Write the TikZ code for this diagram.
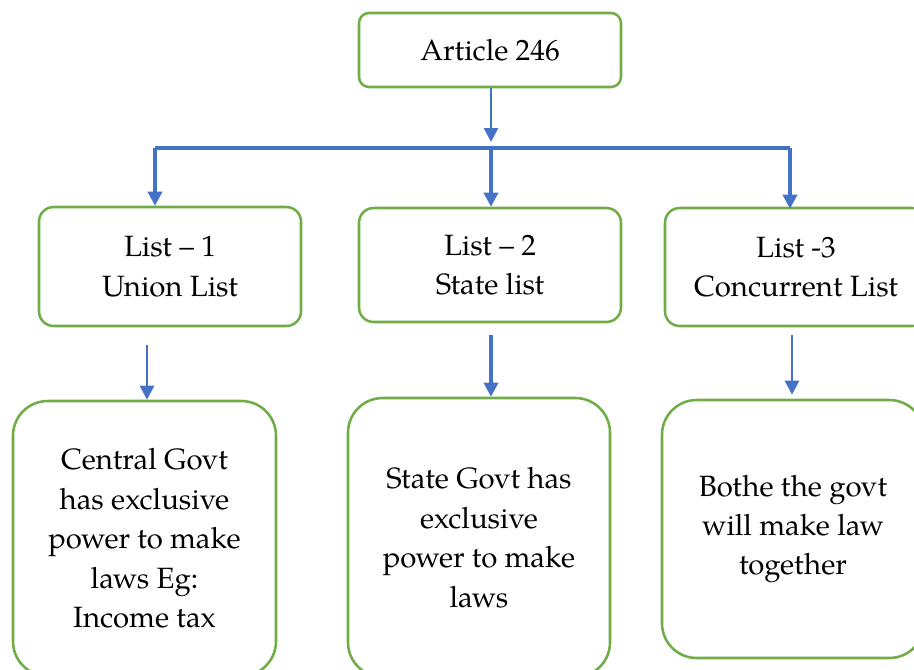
\documentclass[tikz,border=0pt]{standalone}
\usepackage{fontspec}
\setmainfont{TeX Gyre Pagella}
\usetikzlibrary{arrows.meta}
\definecolor{boxgreen}{HTML}{70AD47}
\definecolor{arrowblue}{HTML}{4472C4}
\tikzset{
  gbox/.style={draw=boxgreen, line width=1.9pt, fill=white, align=center, inner sep=0pt,
    font=\fontsize{22}{29.6}\selectfont},
  conn/.style={draw=arrowblue, line width=#1, -{Triangle[width=10.5pt,length=10.5pt]}},
  conn/.default=2.2pt
}
\begin{document}
\begin{tikzpicture}[x=0.75pt,y=-0.75pt]
\useasboundingbox (0,0) rectangle (914,669);
\clip (0,0) rectangle (914,669);
% top box
\node[gbox, rounded corners=7.5pt, minimum width=262*0.75pt, minimum height=74*0.75pt] (art) at (490,50) {Article 246};
% list boxes
\node[gbox, rounded corners=11pt, minimum width=262*0.75pt, minimum height=119*0.75pt] (l1) at (170,266.5) {List – 1\\Union List};
\node[gbox, rounded corners=11pt, minimum width=262*0.75pt, minimum height=114*0.75pt] (l2) at (490,265) {List – 2\\State list};
\node[gbox, rounded corners=11pt, minimum width=262*0.75pt, minimum height=118*0.75pt] (l3) at (796,267) {List -3\\Concurrent List};
% bottom boxes
\node[gbox, rounded corners=26pt, minimum width=263*0.75pt, minimum height=275*0.75pt] (b1) at (144.5,538.5) {Central Govt\\has exclusive\\power to make\\laws Eg:\\Income tax};
\node[gbox, rounded corners=26pt, minimum width=262*0.75pt, minimum height=279*0.75pt] (b2) at (479,537.5) {State Govt has\\exclusive\\power to make\\laws};
\node[gbox, rounded corners=26pt, minimum width=262*0.75pt, minimum height=258*0.75pt] (b3) at (793,529) {Bothe the govt\\will make law\\together};
% connector points
\coordinate (split) at (491,148);
\coordinate (hl) at (155,148);
\coordinate (hr) at (790,148);
\coordinate (s1) at (147,345);
\coordinate (s2) at (491,335);
\coordinate (s3) at (792,335);
% connectors
\draw[conn=1.9pt] (art.south -| split) -- ([yshift=4.5pt]split);
\draw[draw=arrowblue, line width=3pt] (hl) -- (hr);
\draw[conn=2.8pt] (hl) -- (hl |- l1.north);
\draw[conn=2.8pt] (split) -- (split |- l2.north);
\draw[conn=2.8pt] (hr) -- ([yshift=-1.5pt]hr |- l3.north);
\draw[conn=1.9pt] (s1) -- (s1 |- b1.north);
\draw[conn=2.6pt] (s2) -- (s2 |- b2.north);
\draw[conn=1.9pt] (s3) -- ([yshift=3pt]s3 |- b3.north);
\end{tikzpicture}
\end{document}
